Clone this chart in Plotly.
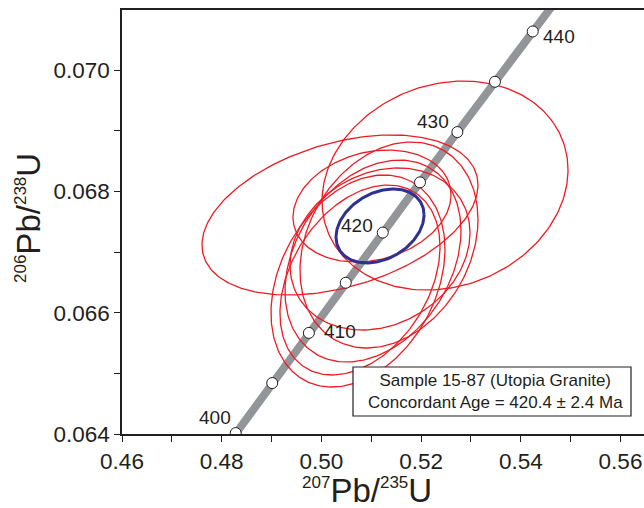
import numpy as np
import plotly.graph_objects as go

# Concordia curve points (age in Ma, 207Pb/235U, 206Pb/238U)
conc_age = [395, 400, 405, 410, 415, 420, 425, 430, 435, 440, 445, 450]
conc_x = [0.475528, 0.482811, 0.490132, 0.497488, 0.504880, 0.512308,
          0.519775, 0.527275, 0.534815, 0.542392, 0.550006, 0.557656]
conc_y = [0.063190, 0.064015, 0.064840, 0.065667, 0.066494, 0.067321,
          0.068149, 0.068978, 0.069807, 0.070637, 0.071468, 0.072300]
marker_ages = [400, 405, 410, 415, 420, 425, 430, 435, 440]
label_ages = [400, 410, 420, 430, 440]
label_dx = [-21, 31, -26, -24, 26]
label_dy = [16, 1, 7, 11, -5]

# Individual analyses (error ellipses): centre, half-widths, correlation
ell_x = [0.52480, 0.50373, 0.50734, 0.51035, 0.51356, 0.51176, 0.51015, 0.50774]
ell_y = [0.068097, 0.067611, 0.066523, 0.066852, 0.067116, 0.067050, 0.067759, 0.066539]
ell_sx = [0.02467, 0.02768, 0.01745, 0.01765, 0.01785, 0.01805, 0.01585, 0.01605]
ell_sy = [0.001723, 0.001319, 0.001748, 0.001665, 0.001698, 0.001336, 0.000923, 0.001566]
ell_rho = [0.15, 0.375, 0.30, 0.30, 0.25, 0.20, 0.20, 0.35]

# Concordant age ellipse
cc_x, cc_y, cc_sx, cc_sy, cc_rho = 0.51176, 0.06743, 0.00883, 0.00061, 0.30

box_lines = ["Sample 15-87 (Utopia Granite)", "Concordant Age = 420.4 ± 2.4 Ma"]

FONT = "Arial, Liberation Sans, Helvetica, sans-serif"
INK = "#231f20"

def ellipse(cx, cy, sx, sy, rho, n=240):
    t = np.linspace(0, 2 * np.pi, n)
    x = cx + sx * np.cos(t)
    y = cy + sy * (rho * np.cos(t) + np.sqrt(1 - rho ** 2) * np.sin(t))
    return x, y

fig = go.Figure()

fig.add_trace(go.Scatter(x=conc_x, y=conc_y, mode="lines",
                         line=dict(color="#939598", width=8),
                         hoverinfo="skip", showlegend=False))

for i in range(len(ell_x)):
    ex, ey = ellipse(ell_x[i], ell_y[i], ell_sx[i], ell_sy[i], ell_rho[i])
    fig.add_trace(go.Scatter(x=ex, y=ey, mode="lines",
                             line=dict(color="#ed1c24", width=1.3),
                             hoverinfo="skip", showlegend=False))

bx, by = ellipse(cc_x, cc_y, cc_sx, cc_sy, cc_rho)
fig.add_trace(go.Scatter(x=bx, y=by, mode="lines",
                         line=dict(color="#2e3192", width=3),
                         hoverinfo="skip", showlegend=False))

mx = [conc_x[conc_age.index(a)] for a in marker_ages]
my = [conc_y[conc_age.index(a)] for a in marker_ages]
fig.add_trace(go.Scatter(x=mx, y=my, mode="markers",
                         marker=dict(size=11, color="white",
                                     line=dict(color=INK, width=1)),
                         hoverinfo="skip", showlegend=False))

annotations = []
for a, dx, dy in zip(label_ages, label_dx, label_dy):
    k = conc_age.index(a)
    annotations.append(dict(x=conc_x[k], y=conc_y[k], xref="x", yref="y",
                            text=str(a), showarrow=False, xshift=dx, yshift=dy,
                            font=dict(family=FONT, size=19, color=INK)))

W, H = 644, 508
L, R, T, B = 122, 0, 10, 74
pw, ph = W - L - R, H - T - B

def px(xp):
    return (xp - L) / pw

def py(yp):
    return (H - B - yp) / ph

annotations.append(dict(x=px(495), y=py(391), xref="paper", yref="paper",
                        text="<br>".join(box_lines), showarrow=False,
                        xanchor="center", yanchor="middle", align="center",
                        font=dict(family=FONT, size=17, color=INK)))

sup = lambda s: "<sup><span style='font-size:17px'>%s</span></sup>" % s
annotations.append(dict(x=px(367), y=py(490), xref="paper", yref="paper",
                        text=sup("207") + "Pb/" + sup("235") + "U", showarrow=False,
                        xanchor="center", yanchor="middle",
                        font=dict(family=FONT, size=33, color=INK)))
annotations.append(dict(x=px(28), y=py(218), xref="paper", yref="paper",
                        text=sup("206") + "Pb/" + sup("238") + "U", showarrow=False,
                        textangle=-90, xanchor="center", yanchor="middle",
                        font=dict(family=FONT, size=33, color=INK)))

fig.update_layout(
    width=W, height=H,
    margin=dict(l=L, r=R, t=T, b=B),
    paper_bgcolor="white", plot_bgcolor="white",
    showlegend=False,
    annotations=annotations,
    shapes=[dict(type="rect", xref="paper", yref="paper",
                 x0=px(353), x1=px(631), y0=py(416), y1=py(367),
                 line=dict(color=INK, width=1.2), fillcolor="white", layer="above")],
    xaxis=dict(range=[0.46, 0.46 + pw / 4985.0], tick0=0.46, dtick=0.02,
               tickformat=".2f", ticks="outside", ticklen=6, tickwidth=1.3,
               tickcolor=INK, showline=True, linecolor=INK, linewidth=1.6,
               mirror=True, showgrid=False, zeroline=False,
               minor=dict(dtick=0.01, tick0=0.46, ticks="outside", ticklen=6,
                          tickwidth=1.3, tickcolor=INK, showgrid=False),
               tickfont=dict(family=FONT, size=22.5, color=INK)),
    yaxis=dict(range=[0.064, 0.064 + ph / 60650.0], tick0=0.064, dtick=0.002,
               tickformat=".3f", ticks="outside", ticklen=6, tickwidth=1.3,
               tickcolor=INK, showline=True, linecolor=INK, linewidth=1.6,
               mirror=False, showgrid=False, zeroline=False,
               minor=dict(dtick=0.001, tick0=0.064, ticks="outside", ticklen=6,
                          tickwidth=1.3, tickcolor=INK, showgrid=False),
               tickfont=dict(family=FONT, size=22.5, color=INK)),
)

fig.write_html("out.html")
